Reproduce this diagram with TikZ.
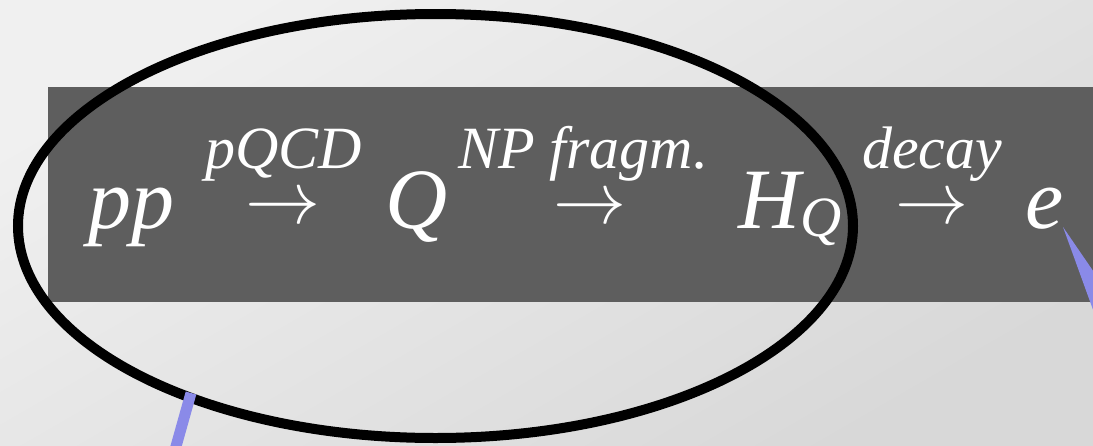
\documentclass[tikz,border=0pt]{standalone}
\usepackage{fontspec}
\setmainfont{Liberation Serif}
\usetikzlibrary{shapes.geometric}
\tikzset{
  lbl/.style={inner sep=0pt, anchor=base west, text=white, font=\itshape},
  arr/.style={inner sep=0pt, anchor=base west, text=white}
}
\definecolor{bgA}{HTML}{F0F0F0}
\definecolor{bgB}{HTML}{D8D8D8}
\definecolor{band}{HTML}{5E5E5E}
\definecolor{ptr}{HTML}{8A8AE8}
\newcommand{\bigarrow}[1]{\smash{\scalebox{#1}{$\rightarrow$}}}
\begin{document}
\begin{tikzpicture}[x=1pt,y=-1pt]
\useasboundingbox (0,0) rectangle (1093,445);
\shade[top color=bgA, bottom color=bgB, shading angle=30] (0,0) rectangle (1093,445);
\fill[band] (48,87) rectangle (1093,302);
% main formula
\node[lbl, font=\itshape\fontsize{86}{86}\selectfont] (pp) at (88,228) {pp};
\node[arr] (a1) at (245,223) {\bigarrow{7.5}};
\node[lbl, font=\itshape\fontsize{60}{60}\selectfont] (l1) at (205,168) {pQCD};
\node[lbl, font=\itshape\fontsize{86}{86}\selectfont] (q) at (385,228) {Q};
\node[arr] (a2) at (553,223) {\bigarrow{7.3}};
\node[lbl, font=\itshape\fontsize{60}{60}\selectfont] (l2) at (458,168) {NP fragm.};
\node[lbl, font=\itshape\fontsize{86}{86}\selectfont] (h) at (738,228) {H};
\node[lbl, font=\itshape\fontsize{57}{57}\selectfont] (hq) at (800,236) {Q};
\node[arr] (a3) at (895,223) {\bigarrow{7.3}};
\node[lbl, font=\itshape\fontsize{60}{60}\selectfont] (l3) at (862,168) {decay};
\node[lbl, font=\itshape\fontsize{86}{86}\selectfont] (e) at (1025,228) {e};
% ellipse
\node[draw=black, line width=10pt, ellipse, minimum width=835pt, minimum height=424pt, inner sep=0pt] (ell) at (435.5,226) {};
% pointers
\coordinate (p1a) at (191,393);
\coordinate (p1b) at (175,450);
\draw[ptr, line width=11pt] (p1a) -- (p1b);
\coordinate (p2a) at (1063,227);
\fill[ptr] (p2a) -- (1100,329) -- (1100,281) -- cycle;
\end{tikzpicture}
\end{document}
